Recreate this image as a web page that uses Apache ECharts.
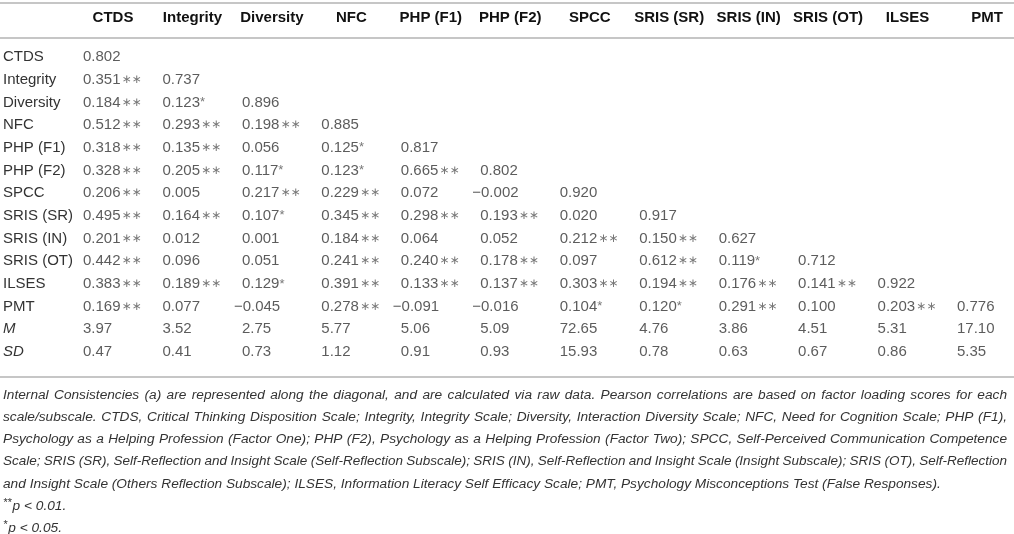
<!DOCTYPE html>
<html><head><meta charset="utf-8">
<script src="https://cdn.jsdelivr.net/npm/echarts@6/dist/echarts.min.js"></script>
<style>html,body{margin:0;padding:0;background:#fff}#c{width:1014px;height:534px}</style>
</head><body><div id="c"></div>
<script>
const scales = ['CTDS','Integrity','Diversity','NFC','PHP (F1)','PHP (F2)','SPCC','SRIS (SR)','SRIS (IN)','SRIS (OT)','ILSES','PMT'];
const statRows = ['M','SD'];
const corr = [
  [0.802],
  [0.351,0.737],
  [0.184,0.123,0.896],
  [0.512,0.293,0.198,0.885],
  [0.318,0.135,0.056,0.125,0.817],
  [0.328,0.205,0.117,0.123,0.665,0.802],
  [0.206,0.005,0.217,0.229,0.072,-0.002,0.920],
  [0.495,0.164,0.107,0.345,0.298,0.193,0.020,0.917],
  [0.201,0.012,0.001,0.184,0.064,0.052,0.212,0.150,0.627],
  [0.442,0.096,0.051,0.241,0.240,0.178,0.097,0.612,0.119,0.712],
  [0.383,0.189,0.129,0.391,0.133,0.137,0.303,0.194,0.176,0.141,0.922],
  [0.169,0.077,-0.045,0.278,-0.091,-0.016,0.104,0.120,0.291,0.100,0.203,0.776]
];
const sig = [
  [''],
  ['**',''],
  ['**','*',''],
  ['**','**','**',''],
  ['**','**','','*',''],
  ['**','**','*','*','**',''],
  ['**','','**','**','','',''],
  ['**','**','*','**','**','**','',''],
  ['**','','','**','','','**','**',''],
  ['**','','','**','**','**','','**','*',''],
  ['**','**','*','**','**','**','**','**','**','**',''],
  ['**','','','**','','','*','*','**','','**','']
];
const means = [3.97,3.52,2.75,5.77,5.06,5.09,72.65,4.76,3.86,4.51,5.31,17.10];
const sds = [0.47,0.41,0.73,1.12,0.91,0.93,15.93,0.78,0.63,0.67,0.86,5.35];
const footnoteLines = [
  'Internal Consistencies (a) are represented along the diagonal, and are calculated via raw data. Pearson correlations are based on factor loading scores for each',
  'scale/subscale. CTDS, Critical Thinking Disposition Scale; Integrity, Integrity Scale; Diversity, Interaction Diversity Scale; NFC, Need for Cognition Scale; PHP (F1),',
  'Psychology as a Helping Profession (Factor One); PHP (F2), Psychology as a Helping Profession (Factor Two); SPCC, Self-Perceived Communication Competence',
  'Scale; SRIS (SR), Self-Reflection and Insight Scale (Self-Reflection Subscale); SRIS (IN), Self-Reflection and Insight Scale (Insight Subscale); SRIS (OT), Self-Reflection',
  'and Insight Scale (Others Reflection Subscale); ILSES, Information Literacy Self Efficacy Scale; PMT, Psychology Misconceptions Test (False Responses).'
];
const pStars = ['**','*'];
const pNotes = ['p < 0.01.','p < 0.05.'];

const rowLabels = scales.concat(statRows);
const FONT = '"Liberation Sans", Arial, Helvetica, sans-serif';
const MINUS = '\u2212';

function fmt(v, d) {
  const s = Math.abs(v).toFixed(d);
  return v < 0 ? MINUS + s : s;
}

const cells = [];
corr.forEach((row, r) => {
  row.forEach((v, c) => {
    cells.push({
      value: [scales[c], rowLabels[r]],
      txt: fmt(v, 3), st: sig[r][c],
      label: { offset: [v < 0 ? -38 : -30, 0] }
    });
  });
});
[means, sds].forEach((arr, k) => {
  arr.forEach((v, c) => {
    cells.push({
      value: [scales[c], statRows[k]],
      txt: fmt(v, 2), st: '',
      label: { offset: [v < 0 ? -38 : -30, 0] }
    });
  });
});

// footnote layout (justified text)
const cv = document.createElement('canvas').getContext('2d');
const fnFont = size => 'italic ' + size + 'px ' + FONT;
const BASE_FN = 13.7;
const graphics = [];
[3, 38, 377].forEach(y => {
  graphics.push({ type: 'line', shape: { x1: 0, y1: y, x2: 1014, y2: y },
    style: { stroke: '#b3b3b3', lineWidth: 1.5 }, silent: true });
});
const fnY0 = 395, fnStep = 22.2, fnLeft = 3, fnRight = 1007;
footnoteLines.forEach((line, i) => {
  const y = fnY0 + i * fnStep;
  const justify = i < footnoteLines.length - 1;
  const words = line.split(' ');
  let size = BASE_FN, widths, total, space;
  for (;;) {
    cv.font = fnFont(size);
    widths = words.map(w => cv.measureText(w).width);
    total = widths.reduce((a, b) => a + b, 0);
    space = cv.measureText(' ').width;
    if (!justify || total + (words.length - 1) * space * 0.85 <= fnRight - fnLeft || size < 11) break;
    size -= 0.1;
  }
  const F = fnFont(size);
  const gap = justify ? (fnRight - fnLeft - total) / (words.length - 1) : space;
  let x = fnLeft;
  words.forEach((w, j) => {
    graphics.push({ type: 'text', x: x, y: y, silent: true,
      style: { text: w, font: F, fill: '#333', textAlign: 'left', textVerticalAlign: 'middle', align: 'left', verticalAlign: 'middle' } });
    x += widths[j] + gap;
  });
});
pNotes.forEach((t, i) => {
  const y = fnY0 + (footnoteLines.length + i) * fnStep;
  cv.font = fnFont(11);
  const sw = cv.measureText(pStars[i]).width;
  graphics.push({ type: 'text', x: fnLeft, y: y - 3, silent: true,
    style: { text: pStars[i], font: fnFont(11), fill: '#333', textAlign: 'left', textVerticalAlign: 'middle', align: 'left', verticalAlign: 'middle' } });
  graphics.push({ type: 'text', x: fnLeft + sw + 1, y: y, silent: true,
    style: { text: t, font: fnFont(BASE_FN), fill: '#333', textAlign: 'left', textVerticalAlign: 'middle', align: 'left', verticalAlign: 'middle' } });
});

function starText(st) {
  if (!st) return '';
  if (st === '**') return '{d|\u2217\u2217}';
  return '{s|*}';
}

const chart = echarts.init(document.getElementById('c'), null, { renderer: 'canvas' });
chart.setOption({
  animation: false,
  backgroundColor: '#fff',
  textStyle: { fontFamily: FONT },
  grid: { left: 113, right: 27, top: 57, bottom: 182, containLabel: false },
  xAxis: {
    type: 'category', data: scales, position: 'top', boundaryGap: false,
    axisLine: { show: false }, axisTick: { show: false }, splitLine: { show: false },
    axisLabel: { interval: 0, fontWeight: 'bold', fontSize: 15, color: '#111', margin: 32, fontFamily: FONT }
  },
  yAxis: {
    type: 'category', data: rowLabels, inverse: true, boundaryGap: false,
    axisLine: { show: false }, axisTick: { show: false }, splitLine: { show: false },
    axisLabel: {
      interval: 0, align: 'left', margin: 110, fontSize: 15, color: '#333', fontFamily: FONT,
      formatter: v => statRows.indexOf(v) >= 0 ? '{i|' + v + '}' : v,
      rich: { i: { fontStyle: 'italic', fontSize: 15, color: '#333', fontFamily: FONT } }
    }
  },
  series: [{
    type: 'scatter', symbolSize: 0, data: cells, silent: true,
    label: {
      show: true, position: 'inside', align: 'left', verticalAlign: 'middle',
      formatter: p => '{n|' + p.data.txt + '}' + starText(p.data.st),
      rich: {
        n: { fontSize: 15, color: '#333', fontFamily: FONT },
        d: { fontSize: 12, color: '#555', fontFamily: '"DejaVu Sans", sans-serif', padding: [0, 0, 0, 1] },
        s: { fontSize: 13, color: '#555', fontFamily: FONT, padding: [0, 0, 0, 0] }
      }
    }
  }],
  graphic: graphics
});
</script></body></html>
